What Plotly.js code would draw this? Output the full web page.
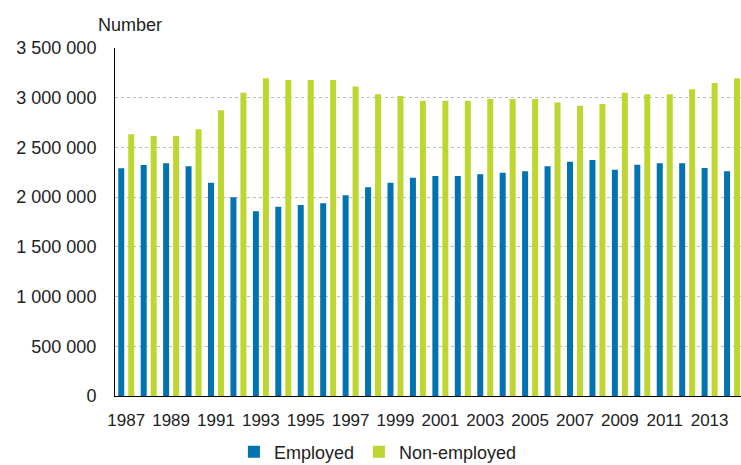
<!DOCTYPE html>
<html>
<head>
<meta charset="utf-8">
<script src="https://cdn.plot.ly/plotly-3.0.1.min.js"></script>
<style>html,body{margin:0;padding:0;background:#fff;}#chart{width:741px;height:465px;}</style>
</head>
<body>
<div id="chart"></div>
<script>
const years = ["1987","1988","1989","1990","1991","1992","1993","1994","1995","1996","1997","1998","1999","2000","2001","2002","2003","2004","2005","2006","2007","2008","2009","2010","2011","2012","2013","2014"];
const employed = [2290000,2323000,2340000,2310000,2145000,2000000,1857000,1904000,1921000,1938000,2018000,2099000,2145000,2196000,2213000,2213000,2229000,2246000,2260000,2310000,2357000,2373000,2276000,2327000,2340000,2340000,2293000,2260000];
const nonEmployed = [2632000,2615000,2615000,2682000,2873000,3050000,3195000,3178000,3178000,3178000,3114000,3034000,3017000,2970000,2970000,2970000,2987000,2987000,2987000,2953000,2920000,2937000,3050000,3034000,3034000,3084000,3148000,3195000];
const tickYears = years.filter((y, i) => i % 2 === 0);

const font = {family: "Liberation Sans, Arial, sans-serif", color: "#222"};

const traces = [
  {type: "bar", name: "Employed", x: years, y: employed,
   marker: {color: "#0073B0"}, width: 0.267, offset: -0.355, hoverinfo: "skip"},
  {type: "bar", name: "Non-employed", x: years, y: nonEmployed,
   marker: {color: "#BED62F"}, width: 0.267, offset: 0.09, hoverinfo: "skip"}
];

const layout = {
  width: 741, height: 465,
  margin: {l: 115, r: 0, t: 48, b: 69, pad: 0, autoexpand: false},
  paper_bgcolor: "#fff", plot_bgcolor: "#fff",
  separators: ", ",
  barmode: "overlay",
  font: Object.assign({size: 18}, font),
  showlegend: true,
  legend: {orientation: "h", xref: "container", yref: "container", x: 0.51, xanchor: "center", y: 0.028, yanchor: "middle",
           font: Object.assign({size: 18}, font), itemwidth: 30, traceorder: "normal"},
  xaxis: {type: "category", range: [-0.5, 27.4], tickmode: "array", tickvals: tickYears, ticktext: tickYears,
          tickangle: 0, showgrid: false, showline: true, linecolor: "#000", linewidth: 1,
          ticks: "", ticklabelstandoff: 9, tickfont: Object.assign({size: 17}, font), fixedrange: true},
  yaxis: {range: [0, 3500000], dtick: 500000, tickformat: ",d", showgrid: true, gridcolor: "#bdbdbd",
          griddash: "dot", gridwidth: 1, showline: true, linecolor: "#000", linewidth: 1, zeroline: false,
          ticks: "", ticklabelstandoff: 14, tickfont: Object.assign({size: 18}, font), fixedrange: true},
  annotations: [{text: "Number", xref: "paper", yref: "paper", x: -0.031, y: 1.066, xanchor: "left", yanchor: "middle",
                 showarrow: false, font: Object.assign({size: 18}, font)}]
};

Plotly.newPlot("chart", traces, layout, {displayModeBar: false, staticPlot: true});
</script>
</body>
</html>
